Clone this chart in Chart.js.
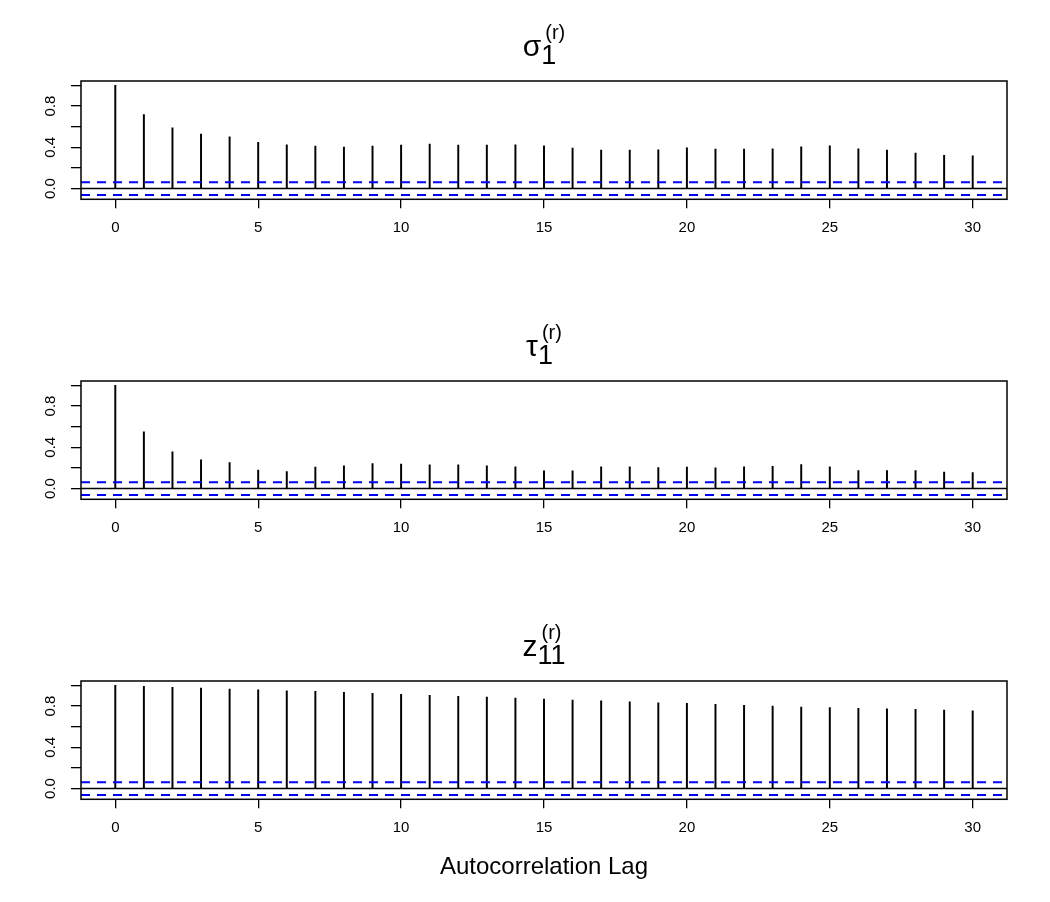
<!DOCTYPE html>
<html>
<head>
<meta charset="utf-8">
<script src="https://cdn.jsdelivr.net/npm/chart.js@4.4.1/dist/chart.umd.min.js"></script>
<style>
  body { margin: 0; background: #fff; }
  .panel { position: absolute; left: 0; width: 1050px; height: 300px; }
</style>
</head>
<body>
<div class="panel" style="top:0px"><canvas id="acfSigma" width="1050" height="300"></canvas></div>
<div class="panel" style="top:300px"><canvas id="acfTau" width="1050" height="300"></canvas></div>
<div class="panel" style="top:600px"><canvas id="acfZ" width="1050" height="300"></canvas></div>
<script>
const lags = [0, 1, 2, 3, 4, 5, 6, 7, 8, 9, 10, 11, 12, 13, 14, 15, 16, 17, 18, 19, 20, 21, 22, 23, 24, 25, 26, 27, 28, 29, 30];

const sigmaAcf = [1.0, 0.717, 0.588, 0.527, 0.502, 0.447, 0.424, 0.412, 0.402, 0.412, 0.421,
  0.431, 0.421, 0.421, 0.424, 0.415, 0.392, 0.373, 0.373, 0.376, 0.395,
  0.383, 0.383, 0.386, 0.405, 0.415, 0.386, 0.373, 0.344, 0.322, 0.318];

const tauAcf = [1.0, 0.550, 0.356, 0.278, 0.252, 0.178, 0.165, 0.207, 0.220, 0.243, 0.236,
  0.230, 0.230, 0.220, 0.210, 0.172, 0.172, 0.210, 0.210, 0.204, 0.207,
  0.201, 0.210, 0.214, 0.233, 0.210, 0.175, 0.175, 0.175, 0.159, 0.155];

const zAcf = [1.0, 0.990, 0.981, 0.974, 0.964, 0.958, 0.948, 0.942, 0.932, 0.922, 0.913,
  0.903, 0.893, 0.887, 0.877, 0.867, 0.858, 0.851, 0.841, 0.832, 0.825,
  0.816, 0.806, 0.799, 0.790, 0.786, 0.777, 0.773, 0.767, 0.761, 0.754];

const ciBound = 0.062;
const xRange = [-1.2, 31.2];
const yRange = [-0.1045, 1.0425];
const xTicks = [0, 5, 10, 15, 20, 25, 30];
const yTicks = [0, 0.2, 0.4, 0.6, 0.8, 1.0];
const yTickLabels = ['0.0', '', '0.4', '', '0.8', ''];

const titleMain = ['σ', 'τ', 'z'];
const titleSub = ['1', '1', '11'];
const titleSup = ['(r)', '(r)', '(r)'];
const xAxisTitle = 'Autocorrelation Lag';

Chart.defaults.font.family = '"Liberation Sans", Arial, Helvetica, sans-serif';
Chart.defaults.color = '#000';

const FONT = '"Liberation Sans", Arial, Helvetica, sans-serif';

// box round the plot area, like R's box()
const boxPlugin = {
  id: 'rbox',
  afterDraw(chart) {
    const { ctx, chartArea: a } = chart;
    ctx.save();
    ctx.strokeStyle = '#000';
    ctx.lineWidth = 1.5;
    ctx.strokeRect(a.left, a.top, a.right - a.left, a.bottom - a.top);
    ctx.restore();
  }
};

// main title with subscript and superscript
const mathTitlePlugin = {
  id: 'mathTitle',
  afterDraw(chart, args, opts) {
    const { ctx, chartArea: a } = chart;
    ctx.save();
    ctx.fillStyle = '#000';
    ctx.textBaseline = 'alphabetic';
    ctx.textAlign = 'left';
    ctx.font = '30px ' + FONT;
    const wMain = ctx.measureText(opts.main).width;
    ctx.font = '27px ' + FONT;
    const wSub = ctx.measureText(opts.sub).width;
    ctx.font = '20px ' + FONT;
    const wSup = ctx.measureText(opts.sup).width + 4;
    const total = wMain + Math.max(wSub, wSup);
    const x0 = (a.left + a.right) / 2 - total / 2;
    const base = a.top - 25;
    ctx.font = '30px ' + FONT;
    ctx.fillText(opts.main, x0, base);
    ctx.font = '27px ' + FONT;
    ctx.fillText(opts.sub, x0 + wMain, base + 8);
    ctx.font = '20px ' + FONT;
    ctx.fillText(opts.sup, x0 + wMain + 4, base - 17);
    ctx.restore();
  }
};

function renderAcf(canvasId, values, idx, showXTitle) {
  const ctx = document.getElementById(canvasId);
  if (!ctx) return;
  const spikes = lags.map((l, i) => ({ x: l, y: values[i] }));
  const hline = (v) => [{ x: xRange[0], y: v }, { x: xRange[1], y: v }];
  return new Chart(ctx, {
    type: 'bar',
    data: {
      datasets: [
        { type: 'bar', data: spikes, backgroundColor: '#000', borderWidth: 0, barThickness: 1.3, order: 3 },
        { type: 'line', data: hline(0), borderColor: '#000', borderWidth: 1.4, pointRadius: 0, order: 2 },
        { type: 'line', data: hline(ciBound), borderColor: '#0000ff', borderWidth: 2, borderDash: [9, 7], pointRadius: 0, order: 1 },
        { type: 'line', data: hline(-ciBound), borderColor: '#0000ff', borderWidth: 2, borderDash: [9, 7], pointRadius: 0, order: 1 }
      ]
    },
    options: {
      responsive: false,
      animation: false,
      devicePixelRatio: 1,
      layout: { padding: { top: 81, right: 43, left: 0, bottom: 0 } },
      plugins: {
        legend: { display: false },
        tooltip: { enabled: false },
        mathTitle: { main: titleMain[idx], sub: titleSub[idx], sup: titleSup[idx] }
      },
      scales: {
        x: {
          type: 'linear',
          min: xRange[0],
          max: xRange[1],
          offset: false,
          afterBuildTicks: (s) => { s.ticks = xTicks.map(v => ({ value: v })); },
          afterFit: (s) => { s.height = 100.7; },
          grid: { drawOnChartArea: false, offset: false, tickLength: 9, tickColor: '#000', lineWidth: 1.3 },
          border: { display: false },
          ticks: { font: { size: 15 }, color: '#000', padding: 11, maxRotation: 0, autoSkip: false,
                   callback: (v) => String(v) },
          title: { display: showXTitle, text: xAxisTitle, color: '#000',
                   font: { size: 24 }, padding: { top: 0, bottom: 18 } }
        },
        y: {
          min: yRange[0],
          max: yRange[1],
          afterBuildTicks: (s) => { s.ticks = yTicks.map(v => ({ value: v })); },
          afterFit: (s) => { s.width = 81; },
          grid: { drawOnChartArea: false, tickLength: 10, tickColor: '#000', lineWidth: 1.3 },
          border: { display: false },
          ticks: { font: { size: 15 }, color: '#000', padding: 10, minRotation: 90, maxRotation: 90,
                   crossAlign: 'center', autoSkip: false,
                   callback: (v, i) => yTickLabels[i] }
        }
      }
    },
    plugins: [boxPlugin, mathTitlePlugin]
  });
}

renderAcf('acfSigma', sigmaAcf, 0, false);
renderAcf('acfTau', tauAcf, 1, false);
renderAcf('acfZ', zAcf, 2, true);
</script>
</body>
</html>
